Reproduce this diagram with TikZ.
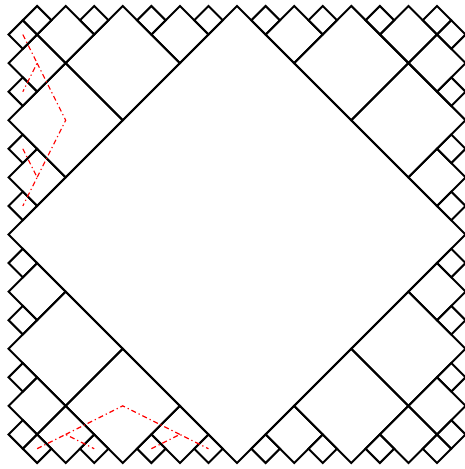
\documentclass[tikz,border=0pt]{standalone}
\usepackage{amsmath}
\usepackage{xcolor}
\usepackage{tikz}

\begin{document}
\begin{tikzpicture}[sq/.style={line width=2pt}, tree/.style={red, line width=1.2pt, dash pattern=on 5pt off 3pt on 1.2pt off 3pt}]
\useasboundingbox (-0.3,-0.21) rectangle (15.95,16.21);

\draw[sq] (8,0) -- (16,8) -- (8,16) -- (0,8) -- cycle;

\foreach \sx/\sy in {1/1,-1/1,1/-1,-1/-1}
	{\begin{scope}[shift={(8,8)}, xscale=\sx, yscale=\sy]
	\foreach \x/\y/\r in {-4/6/2, -6/4/2, -6/7/1, -7/6/1, -2/7/1, -7/2/1, -7/7.5/0.5, -7.5/7/0.5, -5/7.5/0.5, -7.5/5/0.5, -3/7.5/0.5, -1/7.5/0.5, -7.5/3/0.5, -7.5/1/0.5}
		\draw[sq] (\x,\y) +(0,\r) -- +(\r,0) -- +(0,-\r) -- +(-\r,0) -- cycle;
	\end{scope}}

\coordinate (a0) at (2,12);
\coordinate (a1) at (1,14);
\coordinate (a2) at (1,10);
\coordinate (b0) at (4,2);
\coordinate (b1) at (2,1);
\coordinate (b2) at (6,1);
\foreach \i/\p in {1/15,2/13,3/11,4/9}
	{\coordinate (la\i) at (0.5,\p);
	\coordinate (lb\i) at (16-\p,0.5);}

\draw[tree] (la1) -- (a1) -- (la2);
\draw[tree] (la3) -- (a2) -- (la4);
\draw[tree] (a1) -- (a0) -- (a2);
\draw[tree] (lb1) -- (b1) -- (lb2);
\draw[tree] (lb3) -- (b2) -- (lb4);
\draw[tree] (b1) -- (b0) -- (b2);
\end{tikzpicture}
\end{document}
